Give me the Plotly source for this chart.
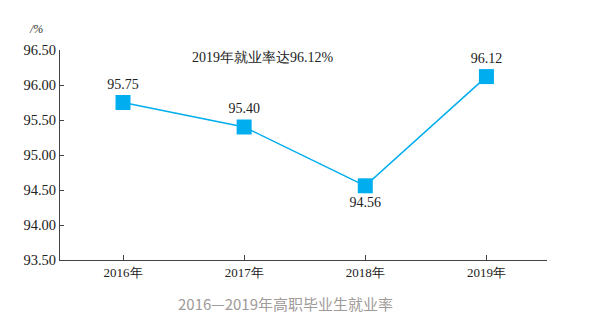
import plotly.graph_objects as go

years = ["2016年", "2017年", "2018年", "2019年"]
rates = [95.75, 95.40, 94.56, 96.12]
label_pos = ["top center", "top center", "bottom center", "top center"]
y_ticks = [93.5, 94.0, 94.5, 95.0, 95.5, 96.0, 96.5]

serif = "Liberation Serif"
blue = "#00aeef"

fig = go.Figure()
fig.add_trace(go.Scatter(
    x=list(range(len(years))), y=rates,
    mode="lines+markers+text",
    line=dict(color=blue, width=1.5),
    marker=dict(symbol="square", size=15, color=blue),
    text=[f"{v:.2f}" for v in rates],
    textposition=label_pos,
    textfont=dict(family=serif, size=14, color="#222"),
    cliponaxis=False,
    showlegend=False,
))

fig.update_layout(
    width=605, height=330,
    margin=dict(l=60, r=58, t=50, b=70),
    paper_bgcolor="white", plot_bgcolor="white",
    font=dict(family=serif),
    xaxis=dict(
        range=[-0.52, 3.5],
        tickmode="array", tickvals=list(range(len(years))), ticktext=years,
        showline=True, linecolor="#444", linewidth=1,
        ticks="inside", ticklen=5, tickcolor="#444",
        showgrid=False, zeroline=False,
        tickfont=dict(family=serif, size=13, color="#222"),
    ),
    yaxis=dict(
        range=[93.5, 96.5],
        tickmode="array", tickvals=y_ticks,
        ticktext=[f"{v:.2f}" for v in y_ticks],
        showline=True, linecolor="#444", linewidth=1,
        ticks="inside", ticklen=4, tickcolor="#444",
        showgrid=False, zeroline=False,
        tickfont=dict(family=serif, size=14.5, color="#222"),
    ),
    annotations=[
        dict(text="<i>/%</i>", x=36, y=29, showarrow=False,
             font=dict(family=serif, size=12, color="#333")),
        dict(text="2019年就业率达96.12%", x=263, y=57, showarrow=False,
             font=dict(family=serif, size=14, color="#222")),
        dict(text="2016—2019年高职毕业生就业率", x=285, y=303, showarrow=False,
             font=dict(family="Noto Sans CJK SC", size=15, color="#a09a98")),
    ],
)

pw = 605 - 60 - 58
ph = 330 - 50 - 70
new_ann = []
for a in fig.layout.annotations:
    px, py = a.x, a.y
    a.update(xref="paper", yref="paper", x=(px - 60) / pw, y=1 - (py - 50) / ph,
             xanchor="center", yanchor="middle")
    new_ann.append(a)
fig.layout.annotations = new_ann

fig.write_html("out.html")
